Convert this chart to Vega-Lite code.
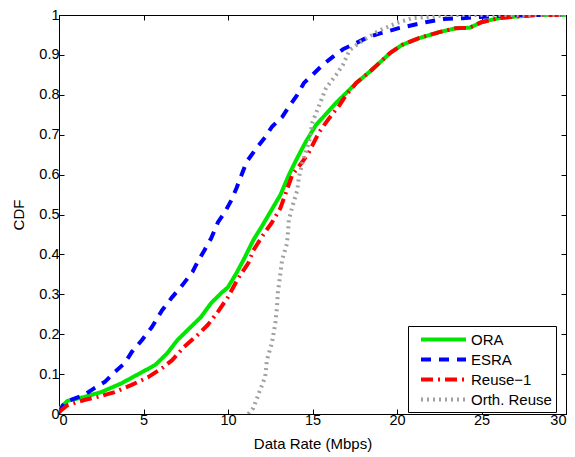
{
  "$schema": "https://vega.github.io/schema/vega-lite/v6.json",
  "width": 507,
  "height": 399,
  "autosize": "none",
  "padding": {"left": 59, "top": 15, "right": 9, "bottom": 43},
  "background": "white",
  "config": {
    "view": {"stroke": "black", "strokeWidth": 1},
    "font": "Liberation Sans",
    "axis": {
      "grid": false,
      "domainColor": "black",
      "tickColor": "black",
      "tickSize": -5,
      "labelColor": "black",
      "titleColor": "black",
      "labelFont": "Liberation Sans",
      "titleFont": "Liberation Sans",
      "labelFontSize": 14.5,
      "titleFontSize": 15,
      "titleFontWeight": "normal"
    }
  },
  "datasets": {
    "cdf": [
      {"s": "ORA", "x": 0, "y": 0.012}, {"s": "ORA", "x": 0.5, "y": 0.033}, {"s": "ORA", "x": 1.5, "y": 0.043}, {"s": "ORA", "x": 2.5, "y": 0.055}, {"s": "ORA", "x": 3.7, "y": 0.077}, {"s": "ORA", "x": 4.7, "y": 0.1}, {"s": "ORA", "x": 5.7, "y": 0.123}, {"s": "ORA", "x": 6.4, "y": 0.152}, {"s": "ORA", "x": 7.0, "y": 0.185}, {"s": "ORA", "x": 7.6, "y": 0.21}, {"s": "ORA", "x": 8.4, "y": 0.243}, {"s": "ORA", "x": 9.0, "y": 0.278}, {"s": "ORA", "x": 9.6, "y": 0.303}, {"s": "ORA", "x": 10.0, "y": 0.318}, {"s": "ORA", "x": 10.5, "y": 0.353}, {"s": "ORA", "x": 11.0, "y": 0.393}, {"s": "ORA", "x": 11.5, "y": 0.436}, {"s": "ORA", "x": 12.0, "y": 0.47}, {"s": "ORA", "x": 12.5, "y": 0.506}, {"s": "ORA", "x": 13.1, "y": 0.549}, {"s": "ORA", "x": 13.6, "y": 0.599}, {"s": "ORA", "x": 14.1, "y": 0.642}, {"s": "ORA", "x": 14.6, "y": 0.682}, {"s": "ORA", "x": 15.2, "y": 0.724}, {"s": "ORA", "x": 15.8, "y": 0.752}, {"s": "ORA", "x": 16.4, "y": 0.78}, {"s": "ORA", "x": 17.0, "y": 0.805}, {"s": "ORA", "x": 17.6, "y": 0.83}, {"s": "ORA", "x": 18.5, "y": 0.862}, {"s": "ORA", "x": 19.6, "y": 0.905}, {"s": "ORA", "x": 20.3, "y": 0.925}, {"s": "ORA", "x": 21.3, "y": 0.942}, {"s": "ORA", "x": 22.5, "y": 0.957}, {"s": "ORA", "x": 23.5, "y": 0.967}, {"s": "ORA", "x": 24.3, "y": 0.968}, {"s": "ORA", "x": 25.0, "y": 0.982}, {"s": "ORA", "x": 26.0, "y": 0.992}, {"s": "ORA", "x": 27.0, "y": 0.996}, {"s": "ORA", "x": 28.2, "y": 1.0}, {"s": "ORA", "x": 30, "y": 1.0},
      {"s": "ESRA", "x": 0, "y": 0.003}, {"s": "ESRA", "x": 0.35, "y": 0.03}, {"s": "ESRA", "x": 1.5, "y": 0.048}, {"s": "ESRA", "x": 2.1, "y": 0.065}, {"s": "ESRA", "x": 2.7, "y": 0.08}, {"s": "ESRA", "x": 3.3, "y": 0.105}, {"s": "ESRA", "x": 3.9, "y": 0.128}, {"s": "ESRA", "x": 4.3, "y": 0.155}, {"s": "ESRA", "x": 4.9, "y": 0.185}, {"s": "ESRA", "x": 5.5, "y": 0.218}, {"s": "ESRA", "x": 6.1, "y": 0.26}, {"s": "ESRA", "x": 6.7, "y": 0.293}, {"s": "ESRA", "x": 7.3, "y": 0.323}, {"s": "ESRA", "x": 7.9, "y": 0.356}, {"s": "ESRA", "x": 8.2, "y": 0.381}, {"s": "ESRA", "x": 8.6, "y": 0.41}, {"s": "ESRA", "x": 9.0, "y": 0.44}, {"s": "ESRA", "x": 9.4, "y": 0.48}, {"s": "ESRA", "x": 9.8, "y": 0.505}, {"s": "ESRA", "x": 10.2, "y": 0.536}, {"s": "ESRA", "x": 10.5, "y": 0.566}, {"s": "ESRA", "x": 11.1, "y": 0.632}, {"s": "ESRA", "x": 11.7, "y": 0.667}, {"s": "ESRA", "x": 12.2, "y": 0.694}, {"s": "ESRA", "x": 12.6, "y": 0.72}, {"s": "ESRA", "x": 13.2, "y": 0.744}, {"s": "ESRA", "x": 13.6, "y": 0.77}, {"s": "ESRA", "x": 14.1, "y": 0.8}, {"s": "ESRA", "x": 14.5, "y": 0.83}, {"s": "ESRA", "x": 15.0, "y": 0.85}, {"s": "ESRA", "x": 15.6, "y": 0.875}, {"s": "ESRA", "x": 16.2, "y": 0.895}, {"s": "ESRA", "x": 16.8, "y": 0.914}, {"s": "ESRA", "x": 17.6, "y": 0.93}, {"s": "ESRA", "x": 18.3, "y": 0.945}, {"s": "ESRA", "x": 19.1, "y": 0.955}, {"s": "ESRA", "x": 20.1, "y": 0.967}, {"s": "ESRA", "x": 21.7, "y": 0.982}, {"s": "ESRA", "x": 22.8, "y": 0.99}, {"s": "ESRA", "x": 23.9, "y": 0.992}, {"s": "ESRA", "x": 24.9, "y": 0.995}, {"s": "ESRA", "x": 26.0, "y": 0.998}, {"s": "ESRA", "x": 27.0, "y": 1.0}, {"s": "ESRA", "x": 30, "y": 1.0},
      {"s": "Reuse\u22121", "x": 0, "y": 0.005}, {"s": "Reuse\u22121", "x": 0.5, "y": 0.022}, {"s": "Reuse\u22121", "x": 1.5, "y": 0.035}, {"s": "Reuse\u22121", "x": 2.3, "y": 0.043}, {"s": "Reuse\u22121", "x": 3.3, "y": 0.055}, {"s": "Reuse\u22121", "x": 4.3, "y": 0.073}, {"s": "Reuse\u22121", "x": 5.3, "y": 0.093}, {"s": "Reuse\u22121", "x": 6.1, "y": 0.115}, {"s": "Reuse\u22121", "x": 6.7, "y": 0.135}, {"s": "Reuse\u22121", "x": 7.4, "y": 0.168}, {"s": "Reuse\u22121", "x": 8.2, "y": 0.198}, {"s": "Reuse\u22121", "x": 8.8, "y": 0.223}, {"s": "Reuse\u22121", "x": 9.4, "y": 0.256}, {"s": "Reuse\u22121", "x": 10.0, "y": 0.293}, {"s": "Reuse\u22121", "x": 10.6, "y": 0.34}, {"s": "Reuse\u22121", "x": 11.2, "y": 0.378}, {"s": "Reuse\u22121", "x": 11.5, "y": 0.41}, {"s": "Reuse\u22121", "x": 12.1, "y": 0.45}, {"s": "Reuse\u22121", "x": 12.6, "y": 0.48}, {"s": "Reuse\u22121", "x": 13.1, "y": 0.516}, {"s": "Reuse\u22121", "x": 13.8, "y": 0.599}, {"s": "Reuse\u22121", "x": 14.4, "y": 0.632}, {"s": "Reuse\u22121", "x": 14.8, "y": 0.657}, {"s": "Reuse\u22121", "x": 15.4, "y": 0.707}, {"s": "Reuse\u22121", "x": 16.0, "y": 0.742}, {"s": "Reuse\u22121", "x": 16.6, "y": 0.774}, {"s": "Reuse\u22121", "x": 17.0, "y": 0.8}, {"s": "Reuse\u22121", "x": 17.6, "y": 0.83}, {"s": "Reuse\u22121", "x": 18.5, "y": 0.862}, {"s": "Reuse\u22121", "x": 19.6, "y": 0.905}, {"s": "Reuse\u22121", "x": 20.3, "y": 0.925}, {"s": "Reuse\u22121", "x": 21.3, "y": 0.942}, {"s": "Reuse\u22121", "x": 22.5, "y": 0.957}, {"s": "Reuse\u22121", "x": 23.5, "y": 0.967}, {"s": "Reuse\u22121", "x": 24.3, "y": 0.968}, {"s": "Reuse\u22121", "x": 25.0, "y": 0.982}, {"s": "Reuse\u22121", "x": 26.0, "y": 0.992}, {"s": "Reuse\u22121", "x": 27.0, "y": 0.996}, {"s": "Reuse\u22121", "x": 28.2, "y": 1.0}, {"s": "Reuse\u22121", "x": 30, "y": 1.0},
      {"s": "Orth. Reuse", "x": 11.2, "y": 0.0}, {"s": "Orth. Reuse", "x": 11.5, "y": 0.015}, {"s": "Orth. Reuse", "x": 11.9, "y": 0.06}, {"s": "Orth. Reuse", "x": 12.2, "y": 0.093}, {"s": "Orth. Reuse", "x": 12.3, "y": 0.135}, {"s": "Orth. Reuse", "x": 12.6, "y": 0.178}, {"s": "Orth. Reuse", "x": 12.8, "y": 0.228}, {"s": "Orth. Reuse", "x": 12.9, "y": 0.268}, {"s": "Orth. Reuse", "x": 12.95, "y": 0.303}, {"s": "Orth. Reuse", "x": 13.05, "y": 0.336}, {"s": "Orth. Reuse", "x": 13.2, "y": 0.386}, {"s": "Orth. Reuse", "x": 13.5, "y": 0.429}, {"s": "Orth. Reuse", "x": 13.6, "y": 0.486}, {"s": "Orth. Reuse", "x": 13.8, "y": 0.519}, {"s": "Orth. Reuse", "x": 14.1, "y": 0.561}, {"s": "Orth. Reuse", "x": 14.2, "y": 0.594}, {"s": "Orth. Reuse", "x": 14.4, "y": 0.629}, {"s": "Orth. Reuse", "x": 14.8, "y": 0.682}, {"s": "Orth. Reuse", "x": 15.0, "y": 0.732}, {"s": "Orth. Reuse", "x": 15.4, "y": 0.774}, {"s": "Orth. Reuse", "x": 15.8, "y": 0.817}, {"s": "Orth. Reuse", "x": 16.4, "y": 0.85}, {"s": "Orth. Reuse", "x": 16.8, "y": 0.875}, {"s": "Orth. Reuse", "x": 17.2, "y": 0.912}, {"s": "Orth. Reuse", "x": 18.0, "y": 0.937}, {"s": "Orth. Reuse", "x": 19.0, "y": 0.962}, {"s": "Orth. Reuse", "x": 20.0, "y": 0.98}, {"s": "Orth. Reuse", "x": 20.9, "y": 0.992}, {"s": "Orth. Reuse", "x": 21.9, "y": 0.995}, {"s": "Orth. Reuse", "x": 23.0, "y": 1.0}, {"s": "Orth. Reuse", "x": 30, "y": 1.0}
    ]
  },
  "data": {"name": "cdf"},
  "layer": [
    {
      "mark": {"type": "line", "strokeCap": "butt", "strokeJoin": "round", "clip": true},
      "encoding": {
        "x": {"field": "x", "type": "quantitative", "scale": {"domain": [0, 30], "nice": false},
              "axis": {"orient": "bottom", "values": [0, 5, 10, 15, 20, 25, 30], "title": "Data Rate (Mbps)", "labelPadding": 4, "titlePadding": 10}},
        "y": {"field": "y", "type": "quantitative", "scale": {"domain": [0, 1], "nice": false},
              "axis": {"orient": "left", "values": [0, 0.1, 0.2, 0.3, 0.4, 0.5, 0.6, 0.7, 0.8, 0.9, 1], "format": "~g", "title": "CDF", "labelPadding": 5, "titlePadding": 12}},
        "color": {"field": "s", "type": "nominal",
          "scale": {"domain": ["ORA", "ESRA", "Reuse\u22121", "Orth. Reuse"], "range": ["#00e600", "#0000ff", "#ff0000", "#a0a0a0"]},
          "legend": {"title": null, "orient": "none", "legendX": 349, "legendY": 311, "symbolType": "M-3,0H3", "symbolSize": 225, "symbolOffset": 22, "labelOffset": 18, "labelFontSize": 15, "labelFont": "Liberation Sans", "labelColor": "black", "strokeColor": "black", "fillColor": "white", "padding": 4, "rowPadding": 2}},
        "strokeDash": {"field": "s", "type": "nominal",
          "scale": {"domain": ["ORA", "ESRA", "Reuse\u22121", "Orth. Reuse"], "range": [[1, 0], [10, 8], [12, 5, 2, 5], [2, 4]]}},
        "strokeWidth": {"field": "s", "type": "nominal",
          "scale": {"domain": ["ORA", "ESRA", "Reuse\u22121", "Orth. Reuse"], "range": [4, 4, 3.5, 2]}}
      }
    },
    {
      "mark": {"type": "line", "opacity": 0},
      "encoding": {
        "x": {"field": "x", "type": "quantitative", "axis": {"orient": "top", "values": [0, 5, 10, 15, 20, 25, 30], "labels": false, "title": null}},
        "y": {"field": "y", "type": "quantitative", "axis": {"orient": "right", "values": [0, 0.1, 0.2, 0.3, 0.4, 0.5, 0.6, 0.7, 0.8, 0.9, 1], "labels": false, "title": null}},
        "detail": {"field": "s"}
      }
    }
  ],
  "resolve": {"axis": {"x": "independent", "y": "independent"}}
}
